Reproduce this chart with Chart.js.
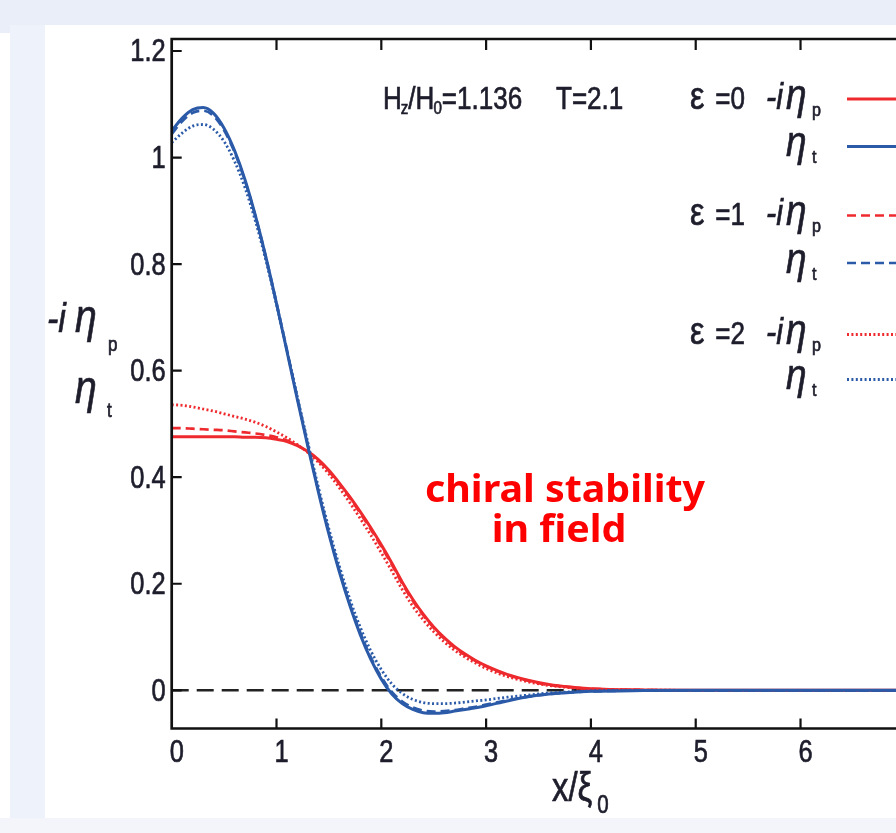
<!DOCTYPE html>
<html>
<head>
<meta charset="utf-8">
<script src="https://cdn.jsdelivr.net/npm/chart.js@4/dist/chart.umd.min.js"></script>
<style>
  html, body { margin:0; padding:0; background:#ffffff; width:896px; height:833px; overflow:hidden; }
  .band { position:absolute; }
  #wrap { position:absolute; left:45px; top:25px; width:851px; height:793px; background:#ffffff; }
</style>
</head>
<body>
<div class="band" style="left:0;top:0;width:896px;height:25px;background:#e9eef8;"></div>
<div class="band" style="left:0;top:25px;width:10px;height:8px;background:#e9eef8;"></div>
<div class="band" style="left:10px;top:25px;width:35px;height:793px;background:#eef2fa;"></div>
<div class="band" style="left:0;top:818px;width:896px;height:15px;background:#f3f5fa;"></div>
<div id="wrap"><canvas id="c" width="851" height="793"></canvas></div>
<script>
// ---------------- data ----------------
const xs = [0,0.1,0.2,0.3,0.4,0.5,0.6,0.7,0.8,0.9,1.0,1.1,1.2,1.3,1.4,1.5,1.6,1.7,1.8,1.9,2.0,
            2.1,2.2,2.3,2.4,2.5,2.6,2.7,2.8,2.9,3.0,3.2,3.4,3.6,3.8,4.0,4.5,5.0,5.5,6.0,6.5,7.0];

// epsilon = 0
const etaP_eps0 = [0.476,0.476,0.476,0.476,0.476,0.476,0.476,0.475,0.475,0.474,0.471,0.467,0.459,0.448,0.433,0.413,0.389,0.363,0.335,0.305,0.273,
                   0.239,0.203,0.171,0.143,0.119,0.099,0.082,0.068,0.056,0.046,0.030,0.019,0.011,0.006,0.003,0.0006,0,0,0,0,0];
const etaT_eps0 = [1.050,1.074,1.090,1.094,1.083,1.055,1.013,0.958,0.890,0.812,0.726,0.636,0.545,0.457,0.372,0.293,0.222,0.159,0.104,0.058,0.021,
                   -0.007,-0.025,-0.036,-0.042,-0.043,-0.042,-0.039,-0.036,-0.033,-0.029,-0.020,-0.012,-0.007,-0.004,-0.002,-0.0005,0,0,0,0,0];
// epsilon = 1
const etaP_eps1 = [0.492,0.492,0.491,0.490,0.489,0.488,0.486,0.484,0.482,0.479,0.475,0.469,0.460,0.447,0.431,0.411,0.387,0.361,0.332,0.302,0.270,
                   0.236,0.200,0.168,0.141,0.117,0.097,0.080,0.066,0.055,0.045,0.029,0.018,0.010,0.006,0.003,0.0005,0,0,0,0,0];
const etaT_eps1 = [1.044,1.068,1.084,1.088,1.078,1.051,1.010,0.956,0.889,0.812,0.727,0.638,0.548,0.460,0.375,0.296,0.225,0.162,0.108,0.062,0.025,
                   -0.003,-0.021,-0.032,-0.038,-0.040,-0.039,-0.037,-0.034,-0.031,-0.027,-0.019,-0.012,-0.007,-0.004,-0.002,-0.0005,0,0,0,0,0];
// epsilon = 2
const etaP_eps2 = [0.536,0.535,0.532,0.528,0.524,0.519,0.514,0.509,0.503,0.495,0.485,0.474,0.461,0.446,0.428,0.406,0.380,0.352,0.322,0.291,0.258,
                   0.224,0.189,0.158,0.132,0.110,0.091,0.075,0.062,0.051,0.041,0.026,0.016,0.009,0.005,0.002,0.0004,0,0,0,0,0];
const etaT_eps2 = [1.028,1.046,1.059,1.062,1.053,1.030,0.993,0.943,0.880,0.806,0.724,0.638,0.550,0.464,0.381,0.303,0.233,0.171,0.118,0.074,0.039,
                   0.012,-0.006,-0.017,-0.023,-0.025,-0.025,-0.024,-0.022,-0.020,-0.018,-0.013,-0.009,-0.005,-0.003,-0.001,0,0,0,0,0,0];

const zeroLineX = [0, 7];
const zeroLineY = [0, 0];

const xTickValues = [0,1,2,3,4,5,6];
const xTickLabels = ['0','1','2','3','4','5','6'];
const yTickValues = [0,0.2,0.4,0.6,0.8,1.0,1.2];
const yTickLabels = ['0','0.2','0.4','0.6','0.8','1','1.2'];

const X_MIN = 0, X_MAX = 6.911;
const Y_MIN = -0.0717, Y_MAX = 1.2225;

const headerText = ['H', 'z', '/H', '0', '=1.136', 'T=2.1'];
const legendEps = ['0', '1', '2'];
const annotationLines = ['chiral stability', 'in field'];
// ---------------------------------------------------------------

const RED = '#ee2a2e';
const BLUE = '#2b5aa8';
const TXT = '#1d1d2c';
const zip = (a, b) => a.map((v, i) => ({x: v, y: b[i]}));

const styles = {
  solid:  { borderDash: [], width: 3 },
  dashed: { borderDash: [9, 5], width: 2.7 },
  dotted: { borderDash: [2, 2.4], width: 2.8 }
};
function ds(label, ys, color, st, order) {
  return {
    label, data: zip(xs, ys), borderColor: color, borderWidth: styles[st].width,
    borderDash: styles[st].borderDash, pointRadius: 0, fill: false,
    cubicInterpolationMode: 'monotone', order
  };
}

const datasets = [
  ds('ε=2 ηt', etaT_eps2, BLUE, 'dotted', 1),
  ds('ε=1 ηt', etaT_eps1, BLUE, 'dashed', 2),
  ds('ε=0 ηt', etaT_eps0, BLUE, 'solid', 3),
  ds('ε=2 -iηp', etaP_eps2, RED, 'dotted', 4),
  ds('ε=1 -iηp', etaP_eps1, RED, 'dashed', 5),
  ds('ε=0 -iηp', etaP_eps0, RED, 'solid', 6),
  { label: 'zero', data: zip(zeroLineX, zeroLineY), borderColor: '#222222', borderWidth: 2.6,
    borderDash: [17, 8], pointRadius: 0, fill: false, order: 10 }
];

// condensed text helper (fill + light stroke for a slightly heavier face)
function txt(ctx, s, x, y, font, align, color, sx, stroke) {
  sx = sx || 0.82;
  ctx.save();
  ctx.font = font;
  ctx.fillStyle = color || TXT;
  ctx.strokeStyle = color || TXT;
  ctx.textBaseline = 'alphabetic';
  ctx.textAlign = 'left';
  const w = ctx.measureText(s).width * sx;
  let x0 = x;
  if (align === 'right') x0 = x - w;
  else if (align === 'center') x0 = x - w / 2;
  ctx.translate(x0, y);
  ctx.scale(sx, 1);
  ctx.fillText(s, 0, 0);
  const sw = (stroke === undefined) ? 0.7 : stroke;
  if (sw > 0) { ctx.lineWidth = sw; ctx.strokeText(s, 0, 0); }
  ctx.restore();
  return x0 + w;
}

const F = '"Liberation Sans", Arial, sans-serif';

const paperPlugin = {
  id: 'paper',
  afterDatasetsDraw(chart) {
    const { ctx, chartArea: a, scales: { x, y } } = chart;
    ctx.save();
    // frame
    ctx.strokeStyle = '#111111';
    ctx.lineWidth = 2.7;
    ctx.setLineDash([]);
    ctx.beginPath();
    ctx.moveTo(a.right + 5, a.top);
    ctx.lineTo(a.left, a.top);
    ctx.lineTo(a.left, a.bottom);
    ctx.lineTo(a.right + 5, a.bottom);
    ctx.stroke();
    // ticks (inward)
    ctx.lineWidth = 2.2;
    ctx.beginPath();
    yTickValues.forEach(v => {
      const py = y.getPixelForValue(v);
      ctx.moveTo(a.left, py); ctx.lineTo(a.left + 10, py);
    });
    xTickValues.forEach(v => {
      if (v === 0) return;
      const px = x.getPixelForValue(v);
      ctx.moveTo(px, a.bottom); ctx.lineTo(px, a.bottom - 10);
      ctx.moveTo(px, a.top); ctx.lineTo(px, a.top + 11);
    });
    ctx.stroke();
    ctx.restore();

    // tick labels
    yTickValues.forEach((v, i) => {
      const py = y.getPixelForValue(v);
      txt(ctx, yTickLabels[i], a.left - 6, py + 10.5, '31px ' + F, 'right');
    });
    xTickValues.forEach((v, i) => {
      const px = x.getPixelForValue(v);
      txt(ctx, xTickLabels[i], px + 5, a.bottom + 33, '31px ' + F, 'center');
    });

    // axis titles: -iη_p / η_t
    txt(ctx, '-i', 2, 307, 'italic 40px ' + F, 'left', TXT, 0.85);
    txt(ctx, 'η', 30, 307, 'italic 46px ' + F, 'left', TXT, 0.85);
    txt(ctx, 'p', 63, 326, '20px ' + F, 'left', TXT, 0.85);
    txt(ctx, 'η', 30, 378, 'italic 46px ' + F, 'left', TXT, 0.85);
    txt(ctx, 't', 62, 392, '20px ' + F, 'left', TXT, 0.85);
    // x/ξ_0
    let e = txt(ctx, 'x/ξ', 507, 776, '40px ' + F, 'left', TXT, 0.82);
    txt(ctx, '0', e + 5, 788, '25px ' + F, 'left', TXT, 0.82);

    // header
    e = txt(ctx, headerText[0], 338, 83.5, '31px ' + F, 'left', TXT, 0.84);
    e = txt(ctx, headerText[1], e - 1, 89, '18px ' + F, 'left', TXT, 0.84);
    e = txt(ctx, headerText[2], e, 83.5, '31px ' + F, 'left', TXT, 0.84);
    e = txt(ctx, headerText[3], e - 1, 89, '18px ' + F, 'left', TXT, 0.84);
    txt(ctx, headerText[4], e, 83.5, '31px ' + F, 'left', TXT, 0.84);
    txt(ctx, headerText[5], 511, 83.5, '31px ' + F, 'left', TXT, 0.84);

    // legend
    const rows = [
      { base: 83.5,  eps: legendEps[0], kind: 'p', color: RED,  st: 'solid' },
      { base: 131,   eps: null,         kind: 't', color: BLUE, st: 'solid' },
      { base: 200,   eps: legendEps[1], kind: 'p', color: RED,  st: 'dashed' },
      { base: 247.5, eps: null,         kind: 't', color: BLUE, st: 'dashed' },
      { base: 319,   eps: legendEps[2], kind: 'p', color: RED,  st: 'dotted' },
      { base: 364,   eps: null,         kind: 't', color: BLUE, st: 'dotted' }
    ];
    rows.forEach(r => {
      if (r.eps !== null) {
        txt(ctx, 'ε', 645, r.base, '38px ' + F, 'left', TXT, 0.85);
        txt(ctx, '=' + r.eps, 700, r.base, '31px ' + F, 'right', TXT, 0.84);
        txt(ctx, '-i', 721, r.base, 'italic 36px ' + F, 'left', TXT, 0.85);
      }
      txt(ctx, 'η', 741, r.base, 'italic 42px ' + F, 'left', TXT, 0.88);
      txt(ctx, r.kind, 767, r.base + 7, '19px ' + F, 'left', TXT, 0.85);
      ctx.save();
      ctx.strokeStyle = r.color;
      ctx.lineWidth = styles[r.st].width;
      ctx.setLineDash(styles[r.st].borderDash);
      ctx.beginPath();
      ctx.moveTo(802, r.base - 9.5);
      ctx.lineTo(860, r.base - 9.5);
      ctx.stroke();
      ctx.restore();
    });

    // annotation
    const AF = 'bold 37px "Noto Sans", "Open Sans", sans-serif';
    ctx.save();
    ctx.font = AF;
    const sx = 280 / ctx.measureText(annotationLines[0]).width;
    ctx.restore();
    txt(ctx, annotationLines[0], 520, 476.7, AF, 'center', '#ff0000', sx, 0);
    txt(ctx, annotationLines[1], 514, 516.7, AF, 'center', '#ff0000', sx, 0);
  }
};

new Chart(document.getElementById('c'), {
  type: 'line',
  data: { datasets },
  options: {
    responsive: false,
    animation: false,
    devicePixelRatio: 1,
    events: [],
    layout: { padding: { left: 126.7, top: 14, right: 0, bottom: 89.5 } },
    plugins: { legend: { display: false }, tooltip: { enabled: false } },
    scales: {
      x: { type: 'linear', min: X_MIN, max: X_MAX, display: false },
      y: { type: 'linear', min: Y_MIN, max: Y_MAX, display: false }
    }
  },
  plugins: [paperPlugin]
});
</script>
</body>
</html>
